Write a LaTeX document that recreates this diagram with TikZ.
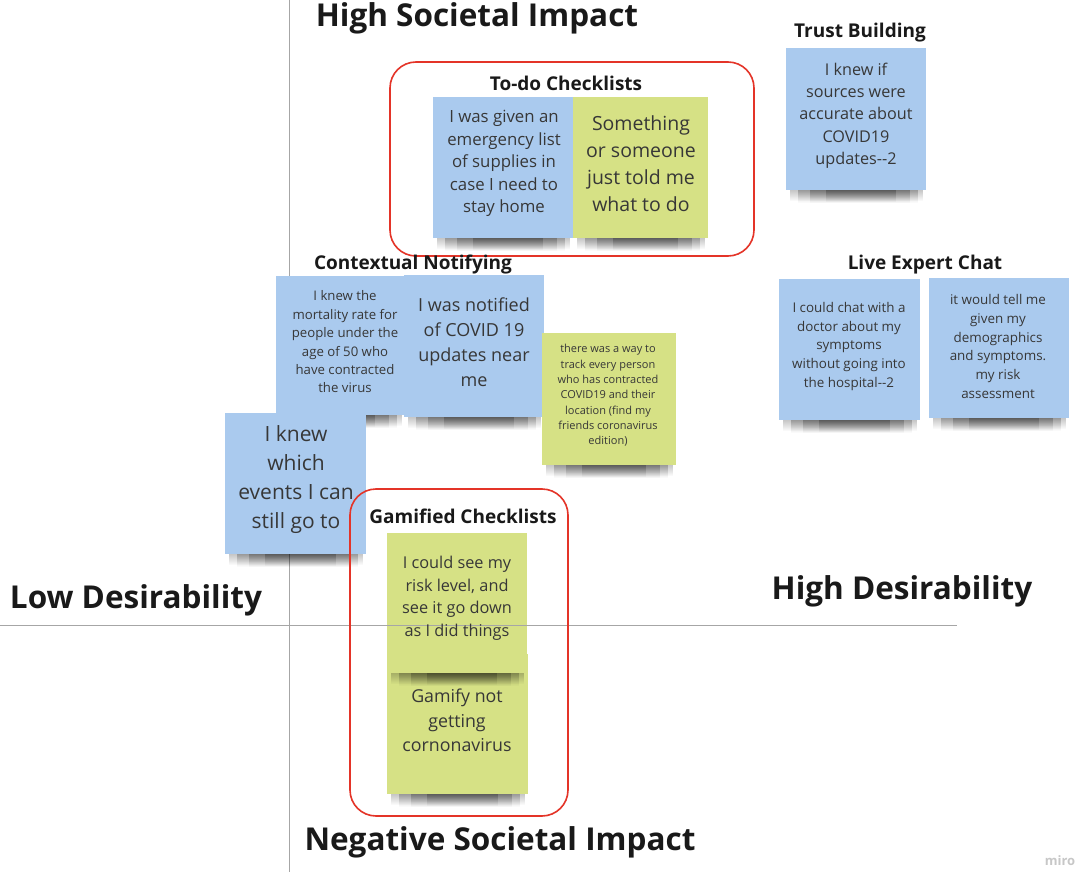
\documentclass[tikz,border=0pt]{standalone}
\usepackage{fontspec}
\setmainfont{Open Sans}
\usetikzlibrary{fadings}
\definecolor{noteblue}{RGB}{170,202,238}
\definecolor{notegreen}{RGB}{214,225,133}
\definecolor{ink}{RGB}{55,55,55}
\definecolor{boxred}{RGB}{228,52,40}
\tikzfading[name=vfade, top color=transparent!0, bottom color=transparent!100]
\tikzset{
 note/.style={draw=none, inner sep=0pt},
 bluenote/.style={note, fill=noteblue},
 greennote/.style={note, fill=notegreen},
 notetext/.style={align=center, text=ink, inner sep=0pt},
 heading/.style={font=\bfseries\fontsize{19}{22}\selectfont, text=black!90, inner sep=0pt},
 axislabel/.style={font=\bfseries\fontsize{31.5}{36}\selectfont, text=black!90, inner sep=0pt},
 axisline/.style={draw=black!35, line width=0.9},
 groupbox/.style={draw=boxred, line width=1.6, rounded corners=26, inner sep=0pt},
 shadowband/.style={fill=black, opacity=0.22, path fading=vfade},
}
\newcommand\noteshadow[1]{%
 \fill[shadowband] ([xshift=4pt]#1.south west) rectangle ([xshift=-3pt,yshift=-11pt]#1.south east);
 \fill[shadowband] ([xshift=12pt]#1.south west) rectangle ([xshift=-8pt,yshift=-13pt]#1.south east);
 \fill[shadowband] ([xshift=24pt]#1.south west) rectangle ([xshift=-16pt,yshift=-13pt]#1.south east);
 \fill[shadowband] ([xshift=40pt]#1.south west) rectangle ([xshift=-30pt,yshift=-12pt]#1.south east);}
\begin{document}
\begin{tikzpicture}[x=1pt,y=-1pt]
\useasboundingbox (0,0) rectangle (1088,872);
\fill[white] (0,0) rectangle (1088,872);
% vertical axis
\coordinate (vtop) at (289,0);
\coordinate (vbot) at (289,872);
\draw[axisline] (vtop) -- (vbot);

% To-do notes
\node[bluenote, minimum width=140, minimum height=141] (todoA) at (503,167.5) {};
\node[greennote, minimum width=135, minimum height=141] (todoB) at (640.5,167.5) {};
\noteshadow{todoA}\noteshadow{todoB}
% Trust
\node[bluenote, minimum width=140, minimum height=142] (trust) at (856,119) {};
\noteshadow{trust}
% Contextual notifying
\node[bluenote, minimum width=129, minimum height=139] (mort) at (340.5,345.5) {};
\noteshadow{mort}
\node[bluenote, minimum width=140, minimum height=142] (notif) at (474,346) {};
\noteshadow{notif}
\node[greennote, minimum width=134, minimum height=132] (track) at (609,399) {};
\noteshadow{track}
\node[bluenote, minimum width=141, minimum height=141] (events) at (295.5,483.5) {};
\noteshadow{events}
% Live expert chat
\node[bluenote, minimum width=141, minimum height=141] (chatA) at (849.5,349.5) {};
\node[bluenote, minimum width=140, minimum height=140] (chatB) at (999,348) {};
\noteshadow{chatA}\noteshadow{chatB}
% Gamified
\node[greennote, minimum width=141, minimum height=140] (gamB) at (457.5,724) {};
\noteshadow{gamB}
\node[greennote, minimum width=140, minimum height=140] (gamA) at (457,603) {};
\noteshadow{gamA}

% horizontal axis
\coordinate (hleft) at (0,625);
\coordinate (hright) at (957,625);
\draw[axisline] (hleft) -- (hright);

% group boxes
\node[groupbox, minimum width=364, minimum height=194] (todoGroup) at (572,159) {};
\node[groupbox, minimum width=218, minimum height=327] (gamGroup) at (459,652.5) {};

% headings
\node[heading] (hTodo) at (566,83) {To-do Checklists};
\node[heading] (hTrust) at (860,33) {Trust Building};
\node[heading] (hCtx) at (413,265) {Contextual Notifying};
\node[heading] (hChat) at (925,265) {Live Expert Chat};
\node[heading] (hGam) at (463,516) {Gamified Checklists};

% axis labels
\node[axislabel] (top) at (477,18) {High Societal Impact};
\node[axislabel] (bottom) at (500,842) {Negative Societal Impact};
\node[axislabel] (left) at (136,600) {Low Desirability};
\node[axislabel] (right) at (902,591) {High Desirability};

% note texts
\node[notetext, font=\fontsize{16.8}{22.5}\selectfont] (tTodoA) at (504,163.5) {I was given an\\emergency list\\of supplies in\\case I need to\\stay home};
\node[notetext, font=\fontsize{19.5}{27}\selectfont] (tTodoB) at (641,163.5) {Something\\or someone\\just told me\\what to do};
\node[notetext, font=\fontsize{16.2}{22.3}\selectfont] (tTrust) at (856,115.5) {I knew if\\sources were\\accurate about\\COVID19\\updates-{}-2};
\node[notetext, font=\fontsize{13.2}{18.4}\selectfont] (tMort) at (345,342) {I knew the\\mortality rate for\\people under the\\age of 50 who\\have contracted\\the virus};
\node[notetext, font=\fontsize{18}{25}\selectfont] (tNotif) at (474,342.5) {I was notified\\of COVID 19\\updates near\\me};
\node[notetext, font=\fontsize{11}{15.3}\selectfont] (tTrack) at (608,395.5) {there was a way to\\track every person\\who has contracted\\COVID19 and their\\location (find my\\friends coronavirus\\edition)};
\node[notetext, font=\fontsize{21}{29}\selectfont] (tEvents) at (296,480) {I knew\\which\\events I can\\still go to};
\node[notetext, font=\fontsize{13.4}{18.8}\selectfont] (tChatA) at (849,346.5) {I could chat with a\\doctor about my\\symptoms\\without going into\\the hospital-{}-2};
\node[notetext, font=\fontsize{13.4}{18.8}\selectfont] (tChatB) at (998,346.5) {it would tell me\\given my\\demographics\\and symptoms.\\my risk\\assessment};
\node[notetext, font=\fontsize{16.3}{22.5}\selectfont] (tGamA) at (457,598.5) {I could see my\\risk level, and\\see it go down\\as I did things};
\node[notetext, font=\fontsize{17.8}{24.5}\selectfont] (tGamB) at (457,720.5) {Gamify not\\getting\\cornonavirus};

\node[font=\bfseries\fontsize{13}{15}\selectfont, text=black!22, inner sep=0pt] (miro) at (1060,861) {miro};
\end{tikzpicture}
\end{document}
